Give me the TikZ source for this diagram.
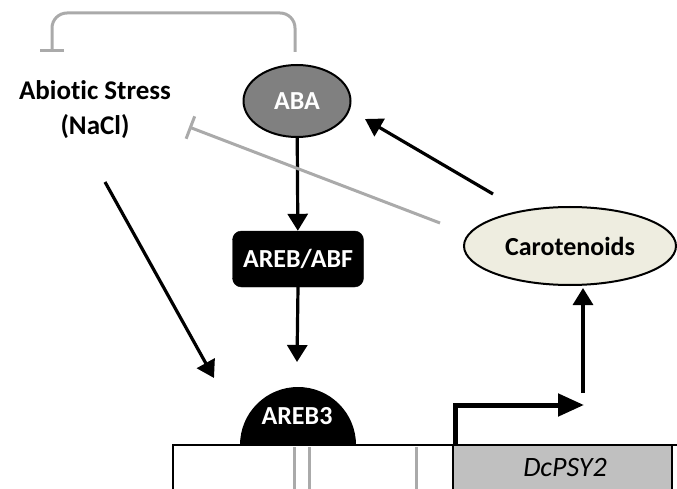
\documentclass[tikz,border=0pt]{standalone}
\usepackage{fontspec}
\setmainfont{Carlito}[Ligatures=NoCommon]
\usetikzlibrary{arrows.meta,shapes.geometric}
\definecolor{inhib}{HTML}{AAAAAA}
\definecolor{abagray}{HTML}{808080}
\definecolor{carfill}{HTML}{EEEDE0}
\definecolor{genegray}{HTML}{C0C0C0}
\tikzset{
  lbl/.style={font=\fontsize{26}{30}\selectfont\bfseries, align=center},
  act/.style={line width=3.2pt, -{Triangle[length=17pt,width=20pt]}},
  inh/.style={line width=3pt, inhib, -{Bar[width=24pt,line width=3pt]}},
}
\begin{document}
\begin{tikzpicture}[x=1pt,y=-1pt]
\useasboundingbox (0,0) rectangle (677,489);
% DNA
\draw[line width=2pt, fill=white] (173,445) rectangle (690,500);
\fill[genegray] (453,446) rectangle (672,495);
\draw[line width=2pt] (453,445) -- (453,495);
\draw[line width=2pt] (672,445) -- (672,495);
\draw[line width=2pt] (173,445) -- (677,445);
\draw[line width=3pt, inhib] (294,447) -- (294,495) (309,447) -- (309,495) (416,447) -- (416,495);
\node[font=\fontsize{28}{30}\selectfont\itshape] (genelbl) at (565,468) {DcPSY2};
% nodes
\node[font=\fontsize{27}{35}\selectfont\bfseries, align=center] (stress) at (95,110) {Abiotic Stress\\(NaCl)};
\node[ellipse, draw, line width=2pt, fill=abagray, minimum width=107pt, minimum height=72pt, inner sep=0pt, text=white, lbl] (aba) at (297,101) {ABA};
\node[draw, fill=black, rounded corners=9pt, minimum width=131pt, minimum height=56pt, text=white, lbl] (abf) at (298,259) {AREB/ABF};
\fill (240,445) arc[start angle=180, end angle=360, radius=58];
\node[lbl, text=white] (areb3) at (297,416) {AREB3};
\node[ellipse, draw, line width=2pt, fill=carfill, minimum width=212pt, minimum height=78pt, inner sep=0pt, lbl] (car) at (570,246) {Carotenoids};
% promoter arrow
\coordinate (pstart) at (455,446);
\coordinate (pturn) at (455,405);
\coordinate (ptip) at (584,405);
\draw[line width=5pt, -{Triangle[length=26pt,width=22pt]}] (pstart) -- (pturn) -- (ptip);
% feedback bracket
\coordinate (brR) at (295,52);
\coordinate (brL) at (52,52);
\draw[inh, rounded corners=15pt] (brR) -- (295,13) -- (52,13) -- (brL);
% connectors
\draw[act] (aba) -- (abf);
\draw[act] (abf.south) -- (297,362);
\coordinate (stressS) at (105,182);
\coordinate (areb3tip) at (214,378);
\draw[act] (stressS) -- (areb3tip);
\coordinate (carup) at (583,393);
\coordinate (carbot) at (583,288);
\draw[act] (carup) -- (carbot);
\coordinate (carL) at (493,194);
\coordinate (abaR) at (365,119);
\draw[act] (carL) -- (abaR);
\coordinate (carInh) at (440,223);
\coordinate (stressInh) at (189,127);
\draw[inh] (carInh) -- (stressInh);
\end{tikzpicture}
\end{document}
